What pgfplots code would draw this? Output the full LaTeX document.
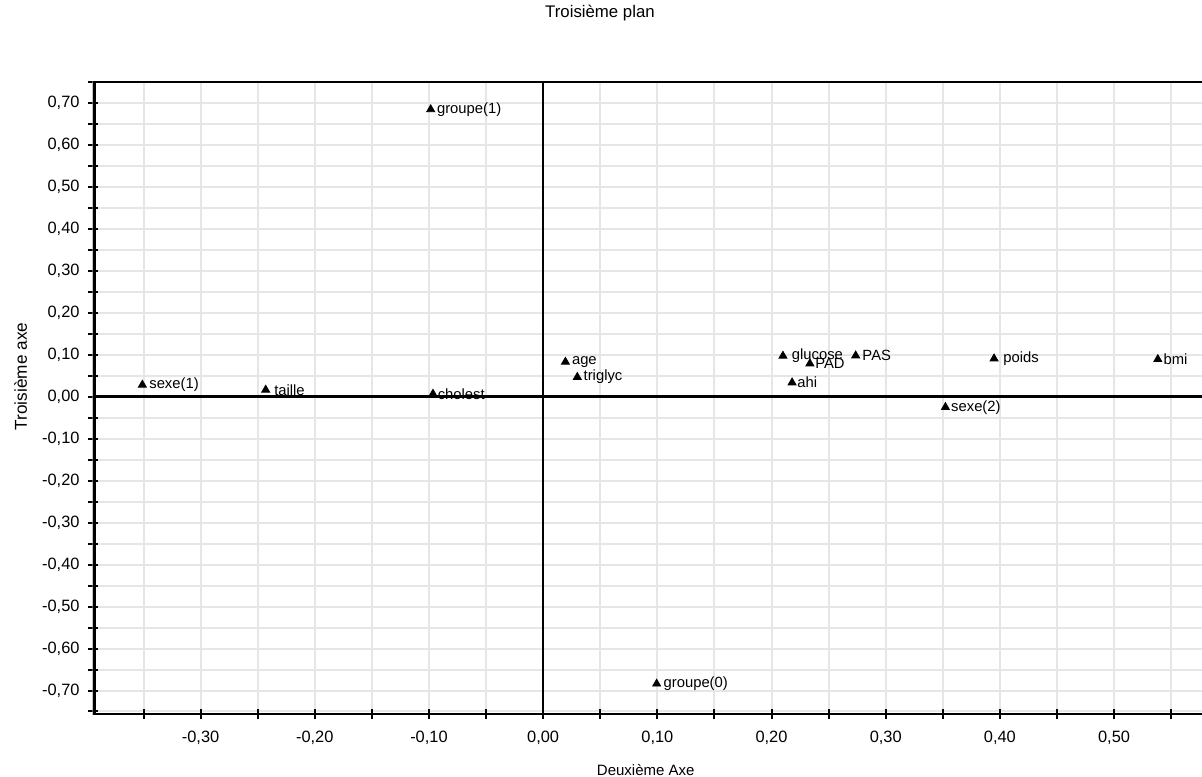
\documentclass[border=0pt]{standalone}
\usepackage{fontspec}
\setmainfont{Liberation Sans}
\usepackage{pgfplots}
\usepackage{pgfplotstable}
\pgfplotsset{compat=1.18}
\usetikzlibrary{calc}
\definecolor{gridgray}{RGB}{230,230,230}
\pgfplotstableread{
x y label dx
-0.351 0.028 sexe(1) 3.3
-0.243 0.016 taille 4.1
-0.0965 0.0064 cholest 2.2
-0.0985 0.684 groupe(1) 3.0
0.0994 -0.684 groupe(0) 3.3
0.0195 0.0826 age 3.1
0.0299 0.0464 triglyc 3.0
0.210 0.0969 glucose 4.3
0.2336 0.0786 PAD 2.5
0.2737 0.0976 PAS 3.2
0.218 0.0333 ahi 2.5
0.3523 -0.0252 sexe(2) 2.7
0.3949 0.0905 poids 4.5
0.5383 0.089 bmi 2.7
}\pointdata
\begin{document}
\begin{tikzpicture}
\begin{axis}[
  scale only axis,
  width=554.65pt, height=316.15pt,
  xmin=-0.3945, xmax=0.577,
  ymin=-0.756, ymax=0.75,
  axis line style={draw=none},
  xtick={-0.3,-0.2,-0.1,0,0.1,0.2,0.3,0.4,0.5},
  minor xtick={-0.35,-0.25,-0.15,-0.05,0.05,0.15,0.25,0.35,0.45,0.55},
  ytick={-0.7,-0.6,-0.5,-0.4,-0.3,-0.2,-0.1,0,0.1,0.2,0.3,0.4,0.5,0.6,0.7},
  minor ytick={-0.75,-0.65,-0.55,-0.45,-0.35,-0.25,-0.15,-0.05,0.05,0.15,0.25,0.35,0.45,0.55,0.65,0.75},
  xtick pos=left, ytick pos=left,
  tick align=center,
  major tick length=5pt, minor tick length=5pt,
  tick style={black, line width=1pt},
  minor tick style={black, line width=1pt},
  grid=both,
  major grid style={gridgray, line width=1pt},
  minor grid style={gridgray, line width=1pt},
  /pgf/number format/assume math mode=true,
  /pgf/number format/.cd, fixed, fixed zerofill, precision=2, use comma,
  /pgfplots/.cd,
  xticklabel style={anchor=center, yshift=-9.6pt, font=\fontsize{8.2}{9}\selectfont},
  yticklabel style={anchor=east, inner sep=0pt, xshift=-3.9pt, font=\fontsize{8.2}{9}\selectfont},
  title={Troisième plan},
  every axis title/.style={at={(axis description cs:0.4573,1.1087)}, anchor=center, font=\fontsize{8.4}{9}\selectfont},
  xlabel={Deuxième Axe},
  xlabel style={at={(axis description cs:0.4985,-0.0886)}, anchor=center, font=\fontsize{7.5}{8}\selectfont},
  ylabel={Troisième axe},
  ylabel style={at={(axis description cs:-0.0649,0.5338)}, anchor=center, font=\fontsize{8.6}{9}\selectfont},
]
\addplot[only marks, mark=triangle*, mark size=2.3pt, black,
  nodes near coords, point meta=explicit symbolic,
  visualization depends on={\thisrow{dx} \as \dx},
  nodes near coords style={anchor=west, inner sep=0pt, xshift=\dx pt, font=\fontsize{7.4}{8}\selectfont, text=black}]
  table[x=x, y=y, meta=label] {\pointdata};
\draw[black, line width=1.1pt] (axis cs:0,-0.756) -- (axis cs:0,0.75);
\draw[black, line width=1.1pt] (axis cs:-0.3945,0) -- (axis cs:0.577,0);
\draw[black, line width=1.35pt] (rel axis cs:0,0) -- (rel axis cs:1,0);
\draw[black, line width=1.35pt] (rel axis cs:0,1) -- (rel axis cs:1,1);
\draw[black, line width=1.3pt, double=white, double distance=0.5pt] (rel axis cs:0,-0.004) -- (rel axis cs:0,1.004);
\end{axis}
\pgfresetboundingbox
\path[use as bounding box] ($(current axis.south west)+(-46.35pt,-31pt)$) rectangle ($(current axis.north east)+(0pt,40.85pt)$);
\end{tikzpicture}
\end{document}
